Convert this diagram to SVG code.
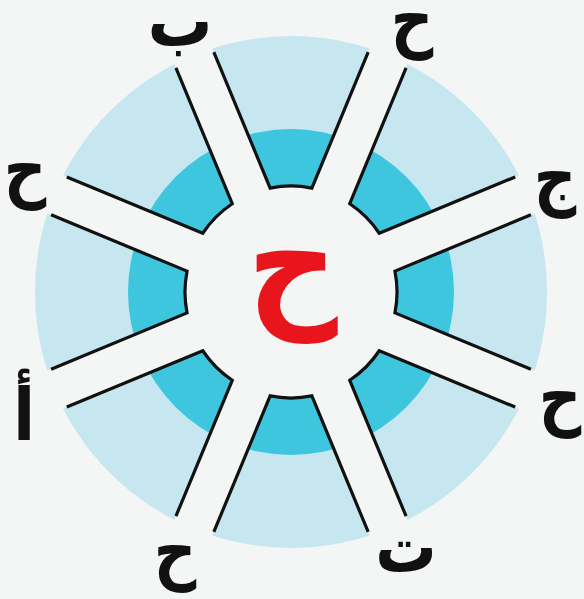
<svg xmlns="http://www.w3.org/2000/svg" width="584" height="599" viewBox="0 0 584 599">
<style>
.bg{fill:#f4f5f5}
.ring-out{fill:#c6e7f0}
.ring-in{fill:#3ec6df}
.white{fill:#f4f5f5}
.edge{fill:none;stroke:#111;stroke-width:3.2;stroke-linejoin:miter}
.lbl{font-family:"DejaVu Sans",sans-serif;font-weight:bold;font-size:72px;fill:#111;text-anchor:middle}
.mid{font-family:"DejaVu Sans",sans-serif;font-weight:bold;font-size:140px;fill:#e8161c;text-anchor:middle}
</style>
<defs>
<path id="sector" d="M -77.18,-239.91 L -20.86,-103.94 A 106 106 0 0 1 20.86,-103.94 L 77.18,-239.91"/>
<rect id="spoke" x="-20.5" y="-262" width="41" height="262"/>
</defs>
<rect class="bg" x="0" y="0" width="584" height="599"/>
<g id="wheel" transform="translate(291,292)">
<circle class="ring-out" r="256"/>
<circle class="ring-in" r="163"/>
<g class="white">
<circle r="106"/>
<use href="#spoke" transform="rotate(22.5)"/>
<use href="#spoke" transform="rotate(67.5)"/>
<use href="#spoke" transform="rotate(112.5)"/>
<use href="#spoke" transform="rotate(157.5)"/>
<use href="#spoke" transform="rotate(202.5)"/>
<use href="#spoke" transform="rotate(247.5)"/>
<use href="#spoke" transform="rotate(292.5)"/>
<use href="#spoke" transform="rotate(337.5)"/>
</g>
</g>
<g id="connectors" class="edge" transform="translate(291,292)">
<use href="#sector"/>
<use href="#sector" transform="rotate(45)"/>
<use href="#sector" transform="rotate(90)"/>
<use href="#sector" transform="rotate(135)"/>
<use href="#sector" transform="rotate(180)"/>
<use href="#sector" transform="rotate(225)"/>
<use href="#sector" transform="rotate(270)"/>
<use href="#sector" transform="rotate(315)"/>
</g>
<g id="center"><text class="mid" transform="translate(292.5,310) scale(0.9,1)">ح</text></g>
<g id="n-ba"><text class="lbl" transform="translate(180,46) scale(0.9,1)">ب</text></g>
<g id="n-ha1"><text class="lbl" transform="translate(412,43) scale(0.82,1)">ح</text></g>
<g id="n-jim"><text class="lbl" transform="translate(555,201) scale(0.82,1)">ج</text></g>
<g id="n-ha2"><text class="lbl" transform="translate(560,421) scale(0.82,1)">ح</text></g>
<g id="n-ta"><text class="lbl" transform="translate(406,572) scale(0.85,1)">ت</text></g>
<g id="n-ha3"><text class="lbl" transform="translate(175,575) scale(0.82,1)">ح</text></g>
<g id="n-alif"><text class="lbl" transform="translate(24,440) scale(0.9,1)">أ</text></g>
<g id="n-ha4"><text class="lbl" transform="translate(25,193) scale(0.82,1)">ح</text></g>
</svg>
